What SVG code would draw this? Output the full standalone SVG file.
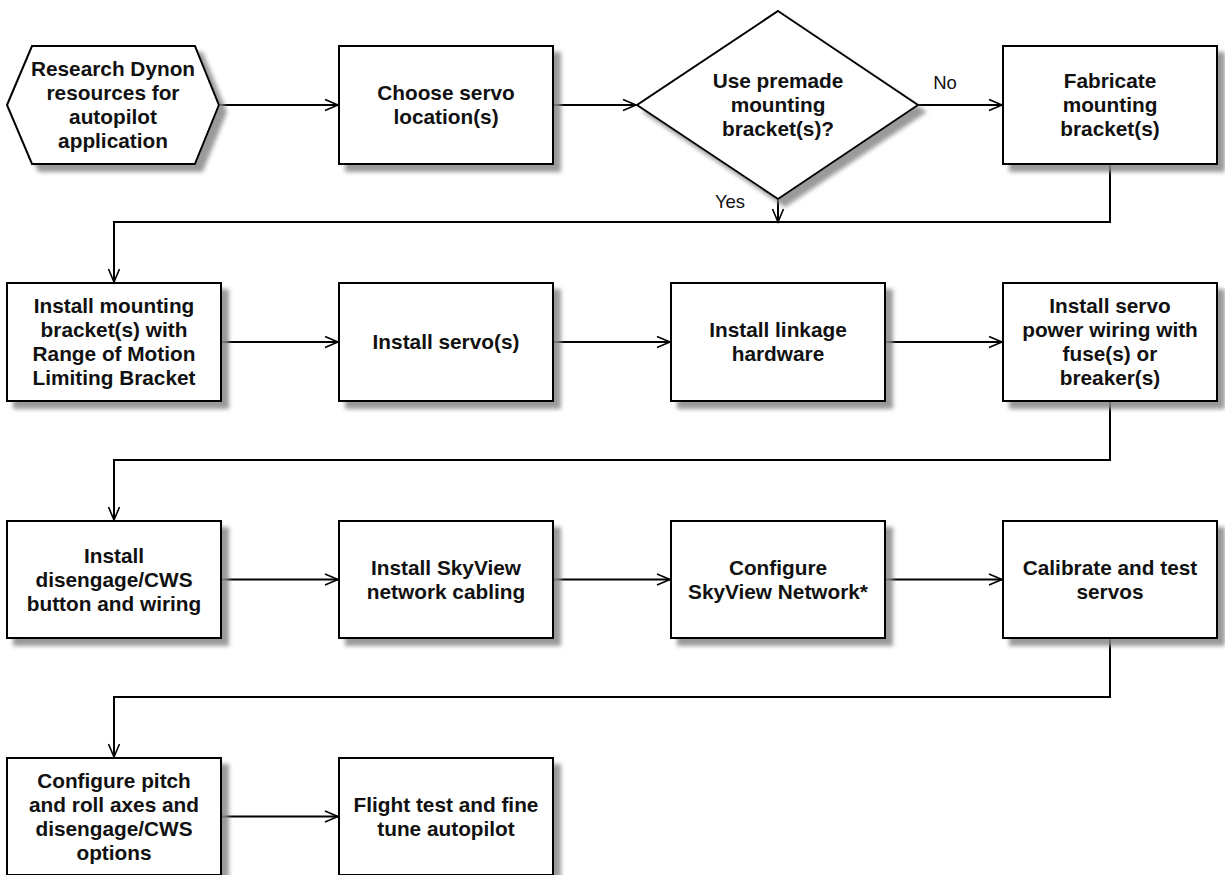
<svg xmlns="http://www.w3.org/2000/svg" width="1225" height="875" viewBox="0 0 1225 875">
<defs>
<filter id="sh" x="-10%" y="-10%" width="130%" height="130%">
<feDropShadow dx="7" dy="7" stdDeviation="2" flood-color="#888" flood-opacity="0.85"/>
</filter>
<marker id="arr" viewBox="-14 -7 16 14" refX="0" refY="0" markerWidth="16" markerHeight="14" markerUnits="userSpaceOnUse" orient="auto">
<path d="M-13,-5.5 L0,0 L-13,5.5" fill="none" stroke="#000" stroke-width="1.6"/>
</marker>
<style>
.n{fill:#fff;stroke:#000;stroke-width:2;filter:url(#sh)}
.t{font-family:"Liberation Sans",Arial,sans-serif;font-weight:bold;font-size:20.8px;fill:#111;text-anchor:middle}
.l{font-family:"Liberation Sans",Arial,sans-serif;font-size:18.5px;fill:#111;text-anchor:middle}
.c{fill:none;stroke:#000;stroke-width:2}
.a{marker-end:url(#arr)}
</style>
</defs>
<rect width="1225" height="875" fill="#fff"/>

<g id="connectors">
<path class="c a" d="M219,105 H338"/>
<path class="c a" d="M553,105 H636"/>
<path class="c a" d="M918,105 H1002"/>
<path class="c a" d="M778,199 V222"/>
<path class="c a" d="M1110,164 V222 H114 V282"/>
<path class="c a" d="M221,342 H338"/>
<path class="c a" d="M553,342 H670"/>
<path class="c a" d="M885,342 H1002"/>
<path class="c a" d="M1110,401 V460 H114 V520"/>
<path class="c a" d="M221,579.5 H338"/>
<path class="c a" d="M553,579.5 H670"/>
<path class="c a" d="M885,579.5 H1002"/>
<path class="c a" d="M1110,638 V697 H114 V757"/>
<path class="c a" d="M221,816.5 H338"/>
<text class="l" x="945" y="89">No</text>
<text class="l" x="730" y="208">Yes</text>
</g>

<g id="n1">
<polygon class="n" points="7,105 32,46 195,46 219,105 195,164 32,164"/>
<text class="t" x="113" y="76">Research Dynon</text>
<text class="t" x="113" y="100">resources for</text>
<text class="t" x="113" y="124">autopilot</text>
<text class="t" x="113" y="148">application</text>
</g>
<g id="n2">
<rect class="n" x="339" y="46" width="214" height="118"/>
<text class="t" x="446" y="100">Choose servo</text>
<text class="t" x="446" y="124">location(s)</text>
</g>
<g id="n3">
<polygon class="n" points="778,11 918,105 778,199 637,105"/>
<text class="t" x="778" y="88">Use premade</text>
<text class="t" x="778" y="112">mounting</text>
<text class="t" x="778" y="136">bracket(s)?</text>
</g>
<g id="n4">
<rect class="n" x="1003" y="46" width="214" height="118"/>
<text class="t" x="1110" y="88">Fabricate</text>
<text class="t" x="1110" y="112">mounting</text>
<text class="t" x="1110" y="136">bracket(s)</text>
</g>

<g id="n5">
<rect class="n" x="7" y="283" width="214" height="118"/>
<text class="t" x="114" y="313">Install mounting</text>
<text class="t" x="114" y="337">bracket(s) with</text>
<text class="t" x="114" y="361">Range of Motion</text>
<text class="t" x="114" y="385">Limiting Bracket</text>
</g>
<g id="n6">
<rect class="n" x="339" y="283" width="214" height="118"/>
<text class="t" x="446" y="349">Install servo(s)</text>
</g>
<g id="n7">
<rect class="n" x="671" y="283" width="214" height="118"/>
<text class="t" x="778" y="337">Install linkage</text>
<text class="t" x="778" y="361">hardware</text>
</g>
<g id="n8">
<rect class="n" x="1003" y="283" width="214" height="118"/>
<text class="t" x="1110" y="313">Install servo</text>
<text class="t" x="1110" y="337">power wiring with</text>
<text class="t" x="1110" y="361">fuse(s) or</text>
<text class="t" x="1110" y="385">breaker(s)</text>
</g>

<g id="n9">
<rect class="n" x="7" y="521" width="214" height="117"/>
<text class="t" x="114" y="562.5">Install</text>
<text class="t" x="114" y="586.5">disengage/CWS</text>
<text class="t" x="114" y="610.5">button and wiring</text>
</g>
<g id="n10">
<rect class="n" x="339" y="521" width="214" height="117"/>
<text class="t" x="446" y="574.5">Install SkyView</text>
<text class="t" x="446" y="598.5">network cabling</text>
</g>
<g id="n11">
<rect class="n" x="671" y="521" width="214" height="117"/>
<text class="t" x="778" y="574.5">Configure</text>
<text class="t" x="778" y="598.5">SkyView Network*</text>
</g>
<g id="n12">
<rect class="n" x="1003" y="521" width="214" height="117"/>
<text class="t" x="1110" y="574.5">Calibrate and test</text>
<text class="t" x="1110" y="598.5">servos</text>
</g>

<g id="n13">
<rect class="n" x="7" y="758" width="214" height="117"/>
<text class="t" x="114" y="787.5">Configure pitch</text>
<text class="t" x="114" y="811.5">and roll axes and</text>
<text class="t" x="114" y="835.5">disengage/CWS</text>
<text class="t" x="114" y="859.5">options</text>
</g>
<g id="n14">
<rect class="n" x="339" y="758" width="214" height="117"/>
<text class="t" x="446" y="811.5">Flight test and fine</text>
<text class="t" x="446" y="835.5">tune autopilot</text>
</g>
</svg>
